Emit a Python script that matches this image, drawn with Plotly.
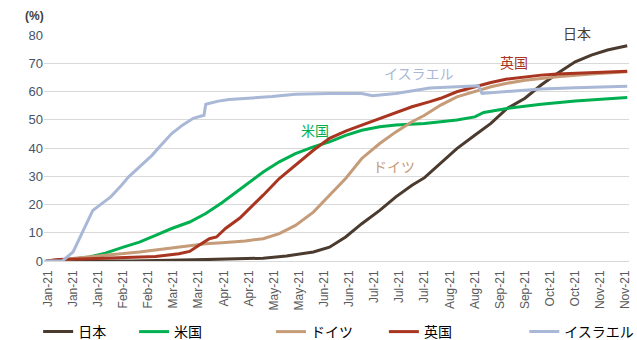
import plotly.graph_objects as go

# Share of population fully vaccinated (%), 2021
tick_dates = [
    "2021-01-01", "2021-01-15", "2021-01-29", "2021-02-12", "2021-02-26", "2021-03-12",
    "2021-03-26", "2021-04-09", "2021-04-23", "2021-05-07", "2021-05-21", "2021-06-04",
    "2021-06-18", "2021-07-02", "2021-07-16", "2021-07-30", "2021-08-13", "2021-08-27",
    "2021-09-10", "2021-09-24", "2021-10-08", "2021-10-22", "2021-11-05", "2021-11-19",
]
y_ticks = [0, 10, 20, 30, 40, 50, 60, 70, 80]

japan_dates = ["2020-12-31", "2021-02-17", "2021-03-30", "2021-04-18", "2021-05-01", "2021-05-14",
               "2021-05-19", "2021-05-29", "2021-06-07", "2021-06-16", "2021-06-25", "2021-07-05",
               "2021-07-14", "2021-07-23", "2021-07-30", "2021-08-08", "2021-08-17", "2021-08-27",
               "2021-09-05", "2021-09-14", "2021-09-24", "2021-10-03", "2021-10-12", "2021-10-22",
               "2021-10-31", "2021-11-09", "2021-11-20"]
japan_vals = [0, 0, 0.5, 0.8, 1.0, 1.8, 2.2, 3.2, 4.9, 8.5, 13.2, 17.9,
              22.7, 26.8, 29.5, 34.5, 39.8, 44.5, 48.7, 54.0, 57.6, 62.3, 66.4, 70.5,
              72.9, 74.7, 76.2]

us_dates = ["2020-12-31", "2021-01-14", "2021-01-24", "2021-02-02", "2021-02-12", "2021-02-21",
            "2021-03-02", "2021-03-11", "2021-03-21", "2021-03-30", "2021-04-08",
            "2021-04-18", "2021-05-01", "2021-05-10", "2021-05-19", "2021-05-29",
            "2021-06-07", "2021-06-16", "2021-06-25", "2021-07-05", "2021-07-14", "2021-07-30",
            "2021-08-17", "2021-08-27", "2021-09-01", "2021-09-14", "2021-10-03", "2021-10-22",
            "2021-11-20"]
us_vals = [0, 0.6, 1.4, 2.8, 4.9, 6.7, 9.1, 11.5, 13.8, 16.8, 20.6,
           25.3, 31.5, 35.1, 38.0, 40.4, 42.2, 44.5, 46.3, 47.5, 48.1, 48.7,
           49.9, 51.0, 52.6, 54.0, 55.5, 56.6, 57.9]

germany_dates = ["2020-12-31", "2021-01-15", "2021-02-02", "2021-02-21", "2021-03-11", "2021-03-21",
                 "2021-03-30", "2021-04-08", "2021-04-21", "2021-05-01", "2021-05-10", "2021-05-19",
                 "2021-05-29", "2021-06-07", "2021-06-16", "2021-06-25", "2021-07-05", "2021-07-14",
                 "2021-07-23", "2021-07-30", "2021-08-08", "2021-08-17", "2021-08-27", "2021-09-05",
                 "2021-09-14", "2021-09-24", "2021-10-03", "2021-10-12", "2021-10-31", "2021-11-20"]
germany_vals = [0, 0.8, 2.0, 3.2, 4.6, 5.5, 6.1, 6.5, 7.1, 7.9, 9.7, 12.6,
                17.3, 23.3, 29.2, 36.3, 41.6, 45.7, 49.3, 51.6, 55.2, 58.1, 59.9, 61.7,
                62.9, 64.0, 64.6, 65.2, 66.2, 67.0]

uk_dates = ["2020-12-31", "2021-01-07", "2021-01-24", "2021-02-12", "2021-03-02", "2021-03-15",
            "2021-03-21", "2021-03-26", "2021-04-01", "2021-04-05", "2021-04-10", "2021-04-18",
            "2021-04-21", "2021-05-01", "2021-05-10", "2021-05-19", "2021-05-29", "2021-06-07",
            "2021-06-16", "2021-06-25", "2021-07-05", "2021-07-14", "2021-07-23", "2021-08-02",
            "2021-08-08", "2021-08-17", "2021-08-27", "2021-09-05", "2021-09-14", "2021-09-24",
            "2021-10-03", "2021-10-12", "2021-10-31", "2021-11-20"]
uk_vals = [0, 0.5, 0.8, 1.2, 1.6, 2.6, 3.4, 5.5, 7.9, 8.5, 11.5, 15.2,
           17.0, 23.3, 29.2, 33.9, 39.2, 43.4, 46.0, 48.1, 50.5, 52.6, 54.6, 56.4,
           57.6, 59.9, 61.7, 63.2, 64.4, 65.2, 65.8, 66.2, 66.8, 67.2]

israel_dates = ["2020-12-30", "2021-01-09", "2021-01-15", "2021-01-20", "2021-01-26", "2021-01-31",
                "2021-02-05", "2021-02-11", "2021-02-15", "2021-02-23", "2021-02-28", "2021-03-05",
                "2021-03-11", "2021-03-17", "2021-03-23", "2021-03-29", "2021-03-30", "2021-04-06",
                "2021-04-12", "2021-05-06", "2021-05-19", "2021-06-07", "2021-06-25", "2021-07-01",
                "2021-07-14", "2021-08-02", "2021-08-17", "2021-08-29", "2021-08-31", "2021-09-14",
                "2021-10-03", "2021-10-22", "2021-11-20"]
israel_vals = [0, 0, 3.2, 9.7, 17.9, 20.3, 22.7, 26.8, 29.8, 34.5, 37.4, 41.0,
               45.1, 48.1, 50.5, 51.6, 55.5, 56.6, 57.2, 58.2, 59.0, 59.3, 59.3, 58.5,
               59.3, 61.2, 61.5, 62.0, 59.3, 59.9, 60.9, 61.3, 61.9]

series = [
    ("日本", japan_dates, japan_vals, "#4b3a2e"),
    ("米国", us_dates, us_vals, "#00b050"),
    ("ドイツ", germany_dates, germany_vals, "#c59b78"),
    ("英国", uk_dates, uk_vals, "#a9341f"),
    ("イスラエル", israel_dates, israel_vals, "#a9b8d6"),
]

# each legend entry sits at its own spot along the bottom row
legend_x = [-0.010, 0.154, 0.388, 0.581, 0.821]

fig = go.Figure()
for i, (name, d, v, c) in enumerate(series):
    key = "legend" if i == 0 else f"legend{i + 1}"
    fig.add_trace(go.Scatter(
        x=d, y=v, name=name, mode="lines",
        line=dict(color=c, width=3),
        legend=key,
    ))

legend_font = dict(family="Noto Sans CJK JP", size=14, color="#000000")
legends = {}
for i, lx in enumerate(legend_x):
    key = "legend" if i == 0 else f"legend{i + 1}"
    legends[key] = dict(
        x=lx, y=-0.385, xref="paper", yref="paper", xanchor="left", yanchor="bottom",
        orientation="h", font=legend_font, bgcolor="rgba(0,0,0,0)",
        itemwidth=30, tracegroupgap=0,
    )

label_font = "Noto Sans CJK JP"
annotations = [
    dict(x="2021-10-23", y=79.5, yshift=3, text="日本", font=dict(color="#4b3a2e")),
    dict(x="2021-09-18", y=70.4, text="英国", font=dict(color="#a9341f")),
    dict(x="2021-07-27", y=66.5, text="イスラエル", font=dict(color="#a9b8d6")),
    dict(x="2021-05-30", y=46.3, text="米国", font=dict(color="#00b050")),
    dict(x="2021-07-13", y=33.5, text="ドイツ", font=dict(color="#c59b78")),
]
for a in annotations:
    a.update(xref="x", yref="y", showarrow=False)
    a["font"].update(family=label_font, size=14)
annotations.append(dict(
    x=0.0, y=1.0, xref="paper", yref="paper", xanchor="right", yanchor="bottom",
    xshift=2, yshift=10, text="<b>(%)</b>", showarrow=False,
    font=dict(family="Liberation Sans", size=12, color="#404040"),
))

fig.update_layout(
    width=637, height=340,
    margin=dict(l=44, r=8, t=35, b=79, autoexpand=False),
    paper_bgcolor="white", plot_bgcolor="white",
    showlegend=True,
    annotations=annotations,
    **legends,
)
fig.update_xaxes(
    type="date",
    range=["2020-12-29 19:00", "2021-11-21 00:00"],
    tickmode="array", tickvals=tick_dates, tickformat="%b-%y",
    tickangle=-90, ticks="", ticklabelstandoff=6,
    tickfont=dict(family="Liberation Sans", size=12, color="#595959"),
    showgrid=False, showline=False, zeroline=False,
)
fig.update_yaxes(
    range=[0, 80], tickvals=y_ticks,
    tickfont=dict(family="Liberation Sans", size=13, color="#44546a"),
    showgrid=True, gridcolor="#d9d9d9", gridwidth=1,
    zeroline=True, zerolinecolor="#d9d9d9", zerolinewidth=1,
    showline=False, ticks="", ticklen=0,
)

fig.write_html("out.html")
